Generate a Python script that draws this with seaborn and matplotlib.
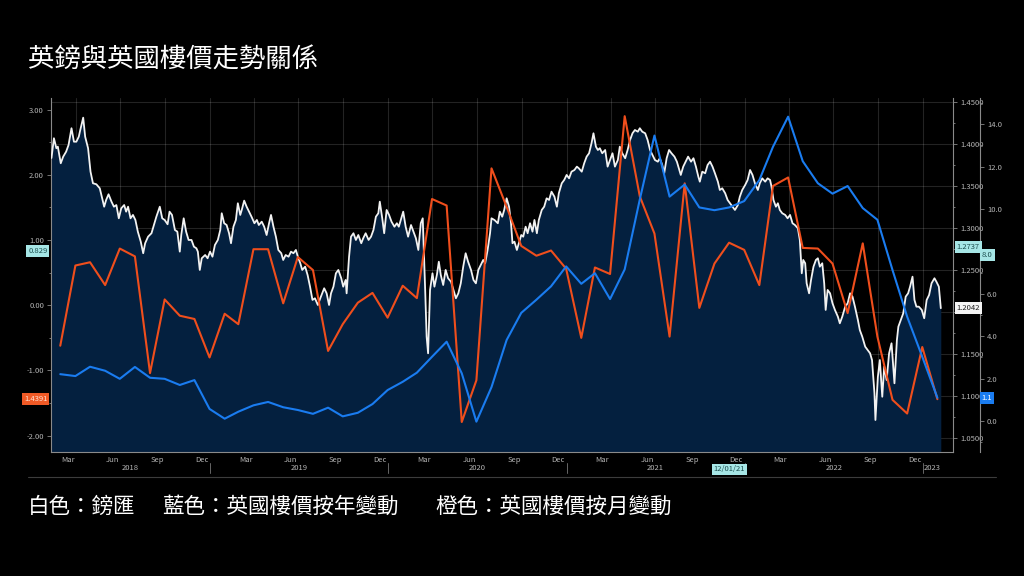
import numpy as np
import pandas as pd
import matplotlib
matplotlib.use("Agg")
import matplotlib.pyplot as plt
import matplotlib.dates as mdates
import matplotlib.transforms as mtrans
from matplotlib.ticker import MultipleLocator, FixedLocator, FixedFormatter, NullFormatter
from matplotlib.lines import Line2D
import seaborn as sns

sns.set_theme(style="dark", rc={"axes.facecolor": "black", "figure.facecolor": "black"})
plt.rcParams["font.family"] = ["Noto Sans CJK TC", "DejaVu Sans"]

# ---------------- data ----------------
BASE = pd.Timestamp("2018-01-01")

# GBP/USD (days since 2018-01-01, rate)
gbp_days = [40, 45, 50, 53, 59, 64, 70, 75, 81, 86, 91, 96, 99, 105, 109, 115, 120, 125, 132, 139,
            144, 148, 152, 157, 163, 168, 173, 178, 183, 189, 193, 197, 202, 207, 212, 217, 223, 228, 232, 238,
            245, 250, 255, 262, 267, 272, 278, 282, 287, 293, 298, 303, 306, 311, 316, 321, 327, 332, 337, 340,
            344, 348, 355, 360, 365, 370, 375, 381, 386, 389, 394, 399, 404, 408, 413, 418, 422, 427, 430, 435,
            440, 445, 450, 456, 461, 465, 471, 476, 481, 486, 490, 495, 500, 505, 511, 515, 520, 526, 531, 536,
            541, 545, 550, 554, 560, 565, 570, 575, 580, 586, 591, 595, 599, 604, 609, 613, 618, 623, 628, 634,
            638, 643, 645, 650, 654, 659, 664, 669, 675, 679, 684, 690, 695, 700, 705, 710, 713, 718, 722, 727,
            732, 737, 743, 748, 752, 758, 761, 766, 771, 777, 782, 787, 792, 797, 801, 806, 809, 812, 816, 821,
            825, 830, 834, 838, 843, 848, 853, 859, 864, 869, 874, 879, 884, 889, 894, 900, 905, 910, 915, 920,
            925, 929, 934, 939, 942, 948, 955, 959, 964, 968, 973, 978, 982, 985, 989, 994, 998, 1003, 1007, 1012,
            1016, 1021, 1026, 1030, 1035, 1039, 1045, 1050, 1055, 1060, 1065, 1071, 1076, 1080, 1086, 1091, 1096, 1101, 1106, 1112,
            1117, 1121, 1127, 1132, 1137, 1142, 1147, 1151, 1156, 1160, 1164, 1169, 1175, 1180, 1185, 1190, 1195, 1201, 1205, 1210,
            1216, 1221, 1226, 1231, 1236, 1242, 1246, 1251, 1257, 1262, 1267, 1272, 1277, 1283, 1287, 1292, 1296, 1301, 1306, 1311,
            1317, 1322, 1326, 1330, 1335, 1340, 1345, 1351, 1356, 1361, 1366, 1369, 1374, 1380, 1385, 1390, 1395, 1400, 1406, 1410,
            1415, 1421, 1426, 1431, 1436, 1441, 1447, 1451, 1456, 1462, 1467, 1472, 1477, 1482, 1488, 1492, 1497, 1503, 1508, 1513,
            1516, 1520, 1525, 1529, 1533, 1538, 1544, 1549, 1554, 1559, 1564, 1570, 1574, 1578, 1581, 1585, 1588, 1593, 1597, 1602,
            1607, 1611, 1615, 1620, 1624, 1627, 1631, 1636, 1641, 1646, 1652, 1656, 1661, 1667, 1672, 1677, 1682, 1687, 1693, 1697,
            1702, 1708, 1713, 1718, 1722, 1727, 1729, 1734, 1738, 1743, 1747, 1752, 1757, 1762, 1768, 1773, 1776, 1781, 1786, 1791,
            1796, 1800, 1805, 1809, 1813, 1818, 1824, 1829, 1834, 1839, 1844, 1850, 1854, 1859, 1863]
gbp_vals = [1.383, 1.4065, 1.3946, 1.3965, 1.3767, 1.3846, 1.3905, 1.3985, 1.4184, 1.4024, 1.4024, 1.4084, 1.4163, 1.431, 1.4084, 1.3946, 1.3667, 1.3529, 1.3517, 1.3469,
            1.335, 1.325, 1.333, 1.3398, 1.331, 1.325, 1.327, 1.3112, 1.3231, 1.327, 1.3191, 1.325, 1.3112, 1.3152, 1.3092, 1.2953, 1.2834, 1.2696, 1.2815, 1.2893,
            1.2934, 1.3032, 1.3131, 1.325, 1.3112, 1.3092, 1.3041, 1.3191, 1.3152, 1.2973, 1.2953, 1.2715, 1.2913, 1.3112, 1.2953, 1.2854, 1.2854, 1.2774, 1.2755, 1.2715,
            1.2497, 1.2636, 1.2675, 1.2636, 1.2715, 1.2655, 1.2794, 1.2854, 1.2973, 1.3172, 1.3053, 1.3032, 1.2934, 1.2815, 1.3012, 1.3092, 1.3291, 1.3152, 1.3211, 1.3322,
            1.325, 1.3191, 1.3131, 1.3053, 1.3092, 1.3032, 1.3072, 1.3012, 1.2913, 1.3053, 1.3152, 1.3012, 1.2893, 1.2735, 1.2696, 1.2616, 1.2675, 1.2655, 1.2715, 1.2696,
            1.2735, 1.2655, 1.2577, 1.2497, 1.2536, 1.2437, 1.2298, 1.214, 1.216, 1.208, 1.216, 1.2219, 1.2279, 1.2219, 1.208, 1.2219, 1.2298, 1.2457, 1.2497, 1.2398,
            1.2298, 1.2378, 1.2219, 1.2655, 1.2893, 1.2934, 1.2854, 1.2913, 1.2815, 1.2874, 1.2934, 1.2854, 1.2893, 1.2973, 1.3131, 1.3172, 1.331, 1.3112, 1.2934, 1.3211,
            1.3152, 1.3072, 1.3012, 1.3053, 1.3012, 1.3131, 1.3191, 1.3012, 1.2893, 1.3032, 1.2953, 1.2874, 1.2735, 1.3053, 1.3112, 1.2259, 1.1703, 1.1505, 1.2259, 1.2457,
            1.2298, 1.2437, 1.2595, 1.2437, 1.2318, 1.2497, 1.2398, 1.2357, 1.2259, 1.216, 1.2219, 1.2338, 1.2536, 1.2696, 1.2595, 1.2497, 1.2378, 1.2338, 1.2497, 1.2556,
            1.2616, 1.2577, 1.2735, 1.2934, 1.3112, 1.3092, 1.3053, 1.3191, 1.3131, 1.3211, 1.335, 1.325, 1.3053, 1.2815, 1.2834, 1.2735, 1.2815, 1.2913, 1.2893, 1.3012,
            1.2934, 1.3053, 1.2953, 1.3092, 1.2934, 1.3092, 1.3211, 1.325, 1.335, 1.333, 1.3429, 1.3369, 1.325, 1.341, 1.3529, 1.3568, 1.3628, 1.3588, 1.3667, 1.3687,
            1.3727, 1.3707, 1.3667, 1.3767, 1.3846, 1.3886, 1.4005, 1.4124, 1.3965, 1.3925, 1.3946, 1.3886, 1.3925, 1.3727, 1.3806, 1.3886, 1.3727, 1.3806, 1.3965, 1.3886,
            1.3827, 1.3925, 1.4044, 1.4124, 1.4163, 1.4143, 1.4184, 1.4143, 1.4124, 1.4044, 1.3925, 1.3866, 1.3806, 1.3786, 1.3827, 1.3747, 1.3648, 1.3827, 1.3925, 1.3886,
            1.3846, 1.3786, 1.3707, 1.3628, 1.3727, 1.3786, 1.3846, 1.3786, 1.3827, 1.3727, 1.3607, 1.3548, 1.3667, 1.3648, 1.3747, 1.3786, 1.3727, 1.3648, 1.3548, 1.3449,
            1.3469, 1.341, 1.333, 1.3291, 1.325, 1.3211, 1.327, 1.3369, 1.3449, 1.3509, 1.3568, 1.3687, 1.3628, 1.3529, 1.3449, 1.3529, 1.3588, 1.3548, 1.3588, 1.3568,
            1.3488, 1.333, 1.325, 1.3291, 1.3211, 1.3172, 1.3152, 1.3112, 1.3152, 1.3053, 1.3032, 1.2993, 1.2854, 1.2457, 1.2616, 1.2577, 1.2338, 1.2219, 1.2378, 1.2536,
            1.2616, 1.2636, 1.2536, 1.2577, 1.2338, 1.2021, 1.2259, 1.2219, 1.21, 1.2021, 1.1941, 1.1862, 1.1941, 1.206, 1.21, 1.2219, 1.2179, 1.206, 1.1902, 1.1782,
            1.1703, 1.1584, 1.1544, 1.1505, 1.1425, 1.1029, 1.0711, 1.1226, 1.1425, 1.0988, 1.1346, 1.1187, 1.1505, 1.1624, 1.1148, 1.1663, 1.1822, 1.1902, 1.1981, 1.2179,
            1.2219, 1.2298, 1.2417, 1.214, 1.206, 1.206, 1.2021, 1.1922, 1.214, 1.2199, 1.2338, 1.2398, 1.2357, 1.2298, 1.2042]

# UK house prices, monthly (Feb 2018 - Jan 2023)
months = pd.date_range("2018-02-28", periods=60, freq="ME")
mom_vals = [-0.62, 0.61, 0.66, 0.31, 0.87, 0.75, -1.04, 0.09, -0.16, -0.21,
            -0.80, -0.13, -0.29, 0.86, 0.86, 0.03, 0.74, 0.54, -0.70, -0.29,
            0.04, 0.19, -0.19, 0.30, 0.11, 1.63, 1.53, -1.79, -1.15, 2.10,
            1.51, 0.91, 0.76, 0.84, 0.56, -0.50, 0.58, 0.48, 2.90, 1.67,
            1.10, -0.48, 1.87, -0.04, 0.64, 0.96, 0.85, 0.31, 1.83, 1.96,
            0.88, 0.87, 0.64, -0.12, 0.95, -0.48, -1.45, -1.66, -0.64, -1.44]
yoy_vals = [2.21, 2.12, 2.56, 2.37, 1.99, 2.55, 2.04, 1.99, 1.70, 1.93,
            0.57, 0.11, 0.44, 0.74, 0.90, 0.65, 0.52, 0.34, 0.63, 0.22,
            0.39, 0.80, 1.46, 1.85, 2.28, 3.03, 3.74, 2.25, -0.03, 1.60,
            3.82, 5.10, 5.72, 6.35, 7.29, 6.47, 6.97, 5.75, 7.15, 10.45,
            13.46, 10.58, 11.15, 10.07, 9.94, 10.07, 10.37, 11.36, 12.93, 14.35,
            12.25, 11.21, 10.72, 11.08, 10.04, 9.49, 7.12, 4.92, 3.03, 1.10]

title = "英鎊與英國樓價走勢關係"
notes = ["白色：鎊匯", "藍色：英國樓價按年變動", "橙色：英國樓價按月變動"]

# ---------------- styling ----------------
WHITE = "#f2f2f2"
ORANGE = "#f04e1c"
BLUE = "#1a7cf0"
NAVY = "#04203f"
TICK = "#b4b4b4"

gbp_dates = BASE + pd.to_timedelta(gbp_days, unit="D")

fig = plt.figure(figsize=(10.24, 5.76), dpi=100, facecolor="black")
ax = fig.add_axes([51 / 1024, 1 - 452 / 576, (953 - 51) / 1024, (452 - 98) / 576])
ax.set_facecolor("black")

# GBP (main axis, inner right scale)
ax.fill_between(gbp_dates, gbp_vals, 1.0, color=NAVY, lw=0, zorder=1)
sns.lineplot(x=gbp_dates, y=gbp_vals, ax=ax, color=WHITE, lw=1.3, zorder=3)
ax.set_ylim(1.033, 1.4544)
gbp_ticks = np.arange(1.05, 1.451, 0.05)
ax.set_yticks(gbp_ticks)
# the 1.2000 label sits under the last-value tag, as in the source chart
ax.set_yticklabels([f"{v:.4f}" if abs(v - 1.2) > 0.001 else "" for v in gbp_ticks])
ax.yaxis.set_minor_locator(MultipleLocator(0.025))

x0 = BASE + pd.Timedelta(days=39)
x1 = BASE + pd.Timedelta(days=1888)
ax.set_xlim(x0, x1)
quarters = pd.date_range("2018-04-01", "2023-01-01", freq="QS")
ax.set_xticks(mdates.date2num(quarters))
ax.xaxis.set_major_formatter(NullFormatter())
mid_months = [d + pd.Timedelta(days=14) for d in pd.date_range("2018-03-01", "2022-12-01", freq="MS")
              if d.month in (3, 6, 9, 12)]
ax.xaxis.set_minor_locator(FixedLocator(mdates.date2num(mid_months)))
ax.xaxis.set_minor_formatter(FixedFormatter([d.strftime("%b") for d in mid_months]))
ax.grid(True, which="major", axis="both", color="white", alpha=0.14, lw=0.8, zorder=2)
ax.tick_params(axis="x", which="major", length=3, width=0.6, color="#888888", direction="out")
ax.tick_params(axis="x", which="minor", length=0, labelsize=5.5, labelcolor=TICK, pad=3)
ax.set_xlabel("")
ax.set_ylabel("")
for s in ["left", "right", "bottom"]:
    ax.spines[s].set_color("#8a8a8a")
    ax.spines[s].set_linewidth(0.8)
    ax.spines[s].set_visible(True)
ax.spines["top"].set_visible(False)

# Monthly change (left scale)
ax_m = ax.twinx()
sns.lineplot(x=months, y=mom_vals, ax=ax_m, color=ORANGE, lw=1.5)
ax_m.yaxis.tick_left()
ax_m.set_ylim(-2.25, 3.179)
mom_ticks = np.arange(-2, 3.01, 1)
ax_m.set_yticks(mom_ticks)
ax_m.set_yticklabels([f"{v:.2f}" for v in mom_ticks])
ax_m.yaxis.set_minor_locator(MultipleLocator(0.5))
ax_m.tick_params(axis="y", which="major", length=3, width=0.6, color="#888888", labelsize=5.5, labelcolor=TICK, pad=2)
ax_m.tick_params(axis="y", which="minor", length=1.5, width=0.6, color="#888888")
ax_m.set_ylabel("")
for s in ax_m.spines.values():
    s.set_visible(False)

# Year-on-year (outer right scale)
ax_y = ax.twinx()
sns.lineplot(x=months, y=yoy_vals, ax=ax_y, color=BLUE, lw=1.5)
ax_y.set_ylim(-1.46, 15.23)
yoy_ticks = np.arange(0, 14.1, 2)
ax_y.set_yticks(yoy_ticks)
ax_y.set_yticklabels([f"{v:.1f}" if abs(v - 8) > 0.01 else "" for v in yoy_ticks])
ax_y.yaxis.set_minor_locator(MultipleLocator(1))
ax_y.tick_params(axis="y", which="major", length=3, width=0.6, color="#888888", labelsize=5.5, labelcolor=TICK, pad=2)
ax_y.tick_params(axis="y", which="minor", length=1.5, width=0.6, color="#888888")
ax_y.set_ylabel("")
for k, s in ax_y.spines.items():
    s.set_visible(k == "right")
ax_y.spines["right"].set_position(("outward", 19.5))
ax_y.spines["right"].set_color("#8a8a8a")
ax_y.spines["right"].set_linewidth(0.8)

# twinx() moves the host's ticks to the left: put the GBP scale back on the right
ax.yaxis.tick_right()
ax.tick_params(axis="y", which="major", length=3, width=0.6, color="#888888", labelsize=5.5, labelcolor=TICK, pad=2)
ax.tick_params(axis="y", which="minor", length=1.5, width=0.6, color="#888888")

# Year labels and separators
bx = mtrans.blended_transform_factory(ax.transData, ax.transAxes)
for yr in range(2018, 2024):
    ys = max(pd.Timestamp(f"{yr}-01-01"), x0)
    ye = min(pd.Timestamp(f"{yr + 1}-01-01"), gbp_dates[-1] if yr == 2023 else x1)
    mid = ys + (ye - ys) / 2
    ax.text(mdates.date2num(mid), -0.044, str(yr), transform=bx, ha="center", va="center",
            fontsize=5.5, color=TICK, clip_on=False)
    if yr > 2018:
        xs = mdates.date2num(pd.Timestamp(f"{yr}-01-01"))
        ax.plot([xs, xs], [-0.03, -0.058], transform=bx, color="#666666", lw=0.7, clip_on=False)

# Value tags
def tag(axis_for_y, xfrac, yval, text, fc, tc, ha):
    tr = mtrans.blended_transform_factory(ax_y.transAxes, axis_for_y.transData)
    ax_y.text(xfrac, yval, text, transform=tr, ha=ha, va="center", fontsize=5.5, color=tc,
              zorder=20, clip_on=False,
              bbox=dict(boxstyle="square,pad=0.25", fc=fc, ec="none"))

tag(ax_m, -0.004, 0.837, "0.829", "#a6e6e6", "#1c4f4f", "right")
tag(ax_m, -0.004, -1.44, "1.4391", "#f05a26", "#ffe2d4", "right")
tag(ax, 1.004, 1.2774, "1.2737", "#a6e6e6", "#1c4f4f", "left")
tag(ax, 1.004, 1.2042, "1.2042", "#f4f4f4", "#202020", "left")
tag(ax_y, 1.032, 7.83, "8.0", "#a6e6e6", "#1c4f4f", "left")
tag(ax_y, 1.032, 1.10, "1.1", BLUE, "white", "left")

ax_y.text(mdates.date2num(pd.Timestamp("2021-12-01")), -0.049, "12/01/21",
          transform=mtrans.blended_transform_factory(ax_y.transData, ax_y.transAxes),
          ha="center", va="center", fontsize=5.5, color="#1c4f4f", zorder=20, clip_on=False,
          bbox=dict(boxstyle="square,pad=0.2", fc="#a6e6e6", ec="none"))

# Title, separator and notes
fig.text(28 / 1024, 1 - 60 / 576, title, color="white", fontsize=19, va="center", ha="left")
fig.add_artist(Line2D([28 / 1024, 996 / 1024], [1 - 477 / 576] * 2, color="#3c3c3c", lw=0.8))
for xpix, s in zip([28, 162, 435], notes):
    fig.text(xpix / 1024, 1 - 507 / 576, s, color="white", fontsize=15.5, va="center", ha="left")

fig.savefig("out.png", dpi=100, facecolor="black")
